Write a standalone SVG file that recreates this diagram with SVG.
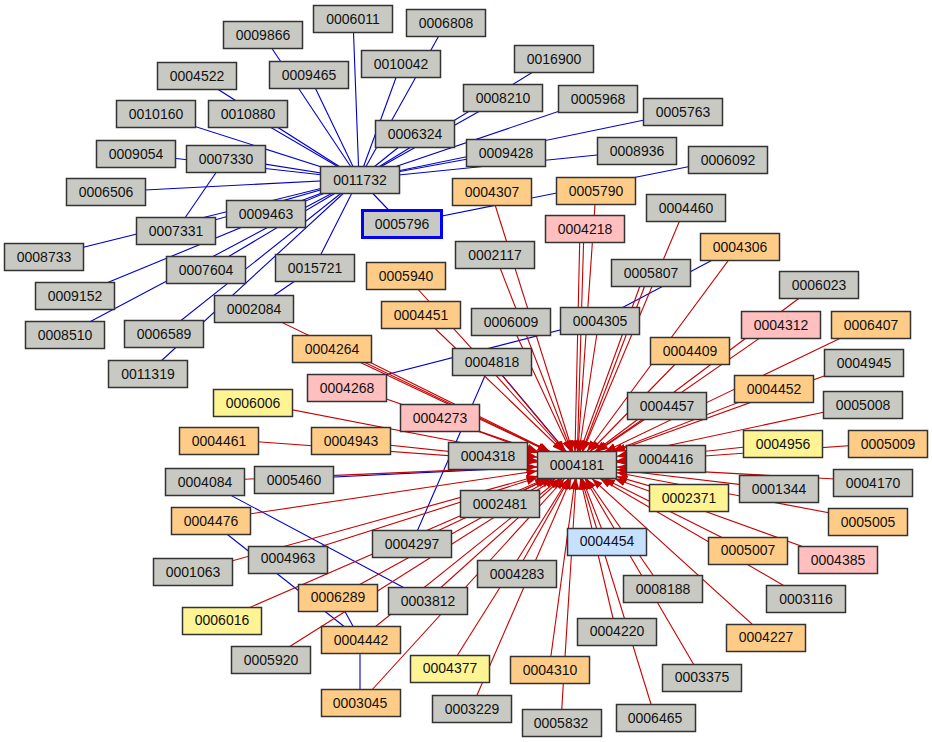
<svg xmlns="http://www.w3.org/2000/svg" width="932" height="742" viewBox="0 0 932 742">
<style>
rect{fill:#c8c9c3;stroke:#333;stroke-width:1.5}
.o{fill:#ffcc88}.p{fill:#ffbfbf}.y{fill:#fff494}.b{fill:#c6e0ff}
.sel{stroke:#0000ff;stroke-width:3}
text{font-family:"Liberation Sans",Arial,sans-serif;font-size:14px;text-anchor:middle;fill:#111}
.r line{stroke:#c80000;stroke-width:1.1;marker-end:url(#ah)}
.u line{stroke:#0000cc;stroke-width:1.1}
</style>
<defs><marker id="ah" markerUnits="userSpaceOnUse" markerWidth="12" markerHeight="8" refX="11" refY="4" orient="auto"><path d="M0,0 L11,4 L0,8 z" fill="#c80000"/></marker></defs>
<rect x="0" y="0" width="932" height="742" style="fill:#fff;stroke:none"/>
<g id="connectors">
<g class="u">
<line x1="359" y1="179" x2="353" y2="19"/><line x1="359" y1="179" x2="446" y2="23"/><line x1="359" y1="179" x2="263" y2="35"/><line x1="359" y1="179" x2="401" y2="64"/><line x1="359" y1="179" x2="554" y2="59"/><line x1="359" y1="179" x2="197" y2="76"/><line x1="359" y1="179" x2="309" y2="75"/><line x1="359" y1="179" x2="503" y2="98"/><line x1="359" y1="179" x2="598" y2="98"/><line x1="359" y1="179" x2="683" y2="112"/><line x1="359" y1="179" x2="156" y2="114"/><line x1="359" y1="179" x2="248" y2="114"/><line x1="359" y1="179" x2="415" y2="134"/><line x1="359" y1="179" x2="136" y2="154"/><line x1="359" y1="179" x2="226" y2="158"/><line x1="359" y1="179" x2="506" y2="152"/><line x1="359" y1="179" x2="637" y2="151"/><line x1="359" y1="179" x2="106" y2="192"/><line x1="359" y1="179" x2="266" y2="214"/><line x1="359" y1="179" x2="402" y2="224"/><line x1="359" y1="179" x2="176" y2="231"/><line x1="359" y1="179" x2="44" y2="257"/><line x1="359" y1="179" x2="206" y2="270"/><line x1="359" y1="179" x2="314" y2="268"/><line x1="359" y1="179" x2="75" y2="296"/><line x1="359" y1="179" x2="65" y2="335"/><line x1="359" y1="179" x2="164" y2="334"/><line x1="359" y1="179" x2="147" y2="374"/>
<line x1="226" y1="158" x2="176" y2="231"/><line x1="254" y1="309" x2="314" y2="268"/>
<line x1="402" y1="224" x2="727" y2="159"/><line x1="599" y1="320" x2="739" y2="246"/><line x1="599" y1="320" x2="346" y2="385"/>
<line x1="491" y1="362" x2="412" y2="543"/><line x1="491" y1="362" x2="566" y2="451"/><line x1="293" y1="479" x2="537" y2="467"/>
<line x1="204" y1="481" x2="427" y2="600"/><line x1="209" y1="520" x2="360" y2="639"/><line x1="337" y1="597" x2="360" y2="639"/><line x1="360" y1="639" x2="360" y2="703"/>
</g>
<g class="r">
<line x1="491" y1="192" x2="572.7" y2="451.5"/><line x1="596" y1="190" x2="577.9" y2="451.5"/><line x1="584" y1="228" x2="577.4" y2="451.5"/><line x1="580" y1="228" x2="575" y2="451.5"/><line x1="685" y1="208" x2="582.7" y2="451.5"/><line x1="495" y1="255" x2="571.7" y2="451.5"/><line x1="739" y1="246" x2="587" y2="451.5"/><line x1="406" y1="276" x2="564.8" y2="451.5"/><line x1="650" y1="272" x2="582.1" y2="451.5"/><line x1="645" y1="272" x2="580" y2="451.5"/><line x1="818" y1="284" x2="595" y2="451.5"/><line x1="254" y1="309" x2="549" y2="451.5"/><line x1="421" y1="315" x2="563" y2="451.5"/><line x1="510" y1="321" x2="570.7" y2="451.5"/><line x1="599" y1="320" x2="579" y2="451.5"/><line x1="780" y1="324" x2="596.4" y2="451.5"/><line x1="870" y1="324" x2="605" y2="451.5"/><line x1="332" y1="349" x2="548.5" y2="451.5"/><line x1="335" y1="345" x2="550" y2="451.5"/><line x1="491" y1="362" x2="565.7" y2="451.5"/><line x1="689" y1="350" x2="590" y2="451.5"/><line x1="863" y1="362" x2="614.5" y2="451.5"/><line x1="346" y1="385" x2="538" y2="451.5"/><line x1="773" y1="389" x2="611.8" y2="451.5"/><line x1="439" y1="417" x2="538" y2="453"/><line x1="666" y1="405" x2="597" y2="451.5"/><line x1="862" y1="404" x2="616.5" y2="456.5"/><line x1="219" y1="439" x2="537.5" y2="462.1"/><line x1="350" y1="441" x2="537.5" y2="460.8"/><line x1="252" y1="402" x2="537.5" y2="457.3"/><line x1="782" y1="443" x2="616.5" y2="460.8"/><line x1="887" y1="443" x2="616.5" y2="462.2"/><line x1="487" y1="455" x2="537.5" y2="460.6"/><line x1="666" y1="458" x2="616.5" y2="461.9"/><line x1="204" y1="481" x2="537.5" y2="466.7"/><line x1="872" y1="481" x2="616.5" y2="467.1"/><line x1="778" y1="489" x2="616.5" y2="469.7"/><line x1="688" y1="497" x2="616.5" y2="476.4"/><line x1="499" y1="502" x2="548.5" y2="478.5"/><line x1="867" y1="520" x2="616.5" y2="472.5"/><line x1="209" y1="520" x2="537.5" y2="470.9"/><line x1="606" y1="540" x2="582.2" y2="478.5"/><line x1="747" y1="550" x2="604" y2="478.5"/><line x1="837" y1="559" x2="614.3" y2="478.5"/><line x1="412" y1="543" x2="548.4" y2="478.5"/><line x1="288" y1="557" x2="537.5" y2="477.6"/><line x1="192" y1="572" x2="537.5" y2="476"/><line x1="516" y1="573" x2="569.4" y2="478.5"/><line x1="662" y1="588" x2="586.3" y2="478.5"/><line x1="701" y1="677" x2="584.9" y2="478.5"/><line x1="337" y1="597" x2="552.5" y2="478.5"/><line x1="427" y1="600" x2="562" y2="478.5"/><line x1="221" y1="620" x2="546" y2="478.5"/><line x1="616" y1="631" x2="580.2" y2="478.5"/><line x1="765" y1="636" x2="591.8" y2="478.5"/><line x1="270" y1="659" x2="555.6" y2="478.5"/><line x1="450" y1="667" x2="568.5" y2="478.5"/><line x1="549" y1="670" x2="575.2" y2="478.5"/><line x1="471" y1="709" x2="571.1" y2="478.5"/><line x1="561" y1="721" x2="576.2" y2="478.5"/><line x1="655" y1="717" x2="581.2" y2="478.5"/><line x1="805" y1="598" x2="600" y2="478.5"/><line x1="360" y1="703" x2="564.7" y2="478.5"/><line x1="360" y1="639" x2="560" y2="478.5"/>
</g>
</g>
<g id="n0006011"><rect x="313.5" y="5.5" width="79" height="27"/><text x="353" y="24">0006011</text></g>
<g id="n0006808"><rect x="406.5" y="9.5" width="79" height="27"/><text x="446" y="28">0006808</text></g>
<g id="n0009866"><rect x="223.5" y="21.5" width="79" height="27"/><text x="263" y="40">0009866</text></g>
<g id="n0010042"><rect x="361.5" y="50.5" width="79" height="27"/><text x="401" y="69">0010042</text></g>
<g id="n0016900"><rect x="514.5" y="45.5" width="79" height="27"/><text x="554" y="64">0016900</text></g>
<g id="n0004522"><rect x="157.5" y="62.5" width="79" height="27"/><text x="197" y="81">0004522</text></g>
<g id="n0009465"><rect x="269.5" y="61.5" width="79" height="27"/><text x="309" y="80">0009465</text></g>
<g id="n0008210"><rect x="463.5" y="84.5" width="79" height="27"/><text x="503" y="103">0008210</text></g>
<g id="n0005968"><rect x="558.5" y="85.5" width="79" height="27"/><text x="598" y="104">0005968</text></g>
<g id="n0005763"><rect x="643.5" y="98.5" width="79" height="27"/><text x="683" y="117">0005763</text></g>
<g id="n0010160"><rect x="116.5" y="100.5" width="79" height="27"/><text x="156" y="119">0010160</text></g>
<g id="n0010880"><rect x="208.5" y="100.5" width="79" height="27"/><text x="248" y="119">0010880</text></g>
<g id="n0006324"><rect x="375.5" y="120.5" width="79" height="27"/><text x="415" y="139">0006324</text></g>
<g id="n0009054"><rect x="96.5" y="140.5" width="79" height="27"/><text x="136" y="159">0009054</text></g>
<g id="n0007330"><rect x="186.5" y="145.5" width="79" height="27"/><text x="226" y="164">0007330</text></g>
<g id="n0009428"><rect x="466.5" y="139.5" width="79" height="27"/><text x="506" y="158">0009428</text></g>
<g id="n0008936"><rect x="597.5" y="137.5" width="79" height="27"/><text x="637" y="156">0008936</text></g>
<g id="n0006092"><rect x="688.5" y="146.5" width="79" height="27"/><text x="728" y="165">0006092</text></g>
<g id="n0006506"><rect x="66.5" y="178.5" width="79" height="27"/><text x="106" y="197">0006506</text></g>
<g id="n0011732"><rect x="320.5" y="166.5" width="79" height="27"/><text x="360" y="185">0011732</text></g>
<g id="n0004307"><rect x="452.5" y="178.5" width="79" height="27" class="o"/><text x="492" y="197">0004307</text></g>
<g id="n0005790"><rect x="556.5" y="177.5" width="79" height="27" class="o"/><text x="596" y="196">0005790</text></g>
<g id="n0009463"><rect x="226.5" y="200.5" width="79" height="27"/><text x="266" y="219">0009463</text></g>
<g id="n0005796"><rect x="362.5" y="210.5" width="79" height="27" class="sel"/><text x="402" y="229">0005796</text></g>
<g id="n0004218"><rect x="545.5" y="215.5" width="79" height="27" class="p"/><text x="585" y="234">0004218</text></g>
<g id="n0004460"><rect x="646.5" y="194.5" width="79" height="27"/><text x="686" y="213">0004460</text></g>
<g id="n0007331"><rect x="136.5" y="217.5" width="79" height="27"/><text x="176" y="236">0007331</text></g>
<g id="n0008733"><rect x="4.5" y="243.5" width="79" height="27"/><text x="44" y="262">0008733</text></g>
<g id="n0002117"><rect x="455.5" y="241.5" width="79" height="27"/><text x="495" y="260">0002117</text></g>
<g id="n0004306"><rect x="700.5" y="233.5" width="79" height="27" class="o"/><text x="740" y="252">0004306</text></g>
<g id="n0007604"><rect x="166.5" y="256.5" width="79" height="27"/><text x="206" y="275">0007604</text></g>
<g id="n0015721"><rect x="275.5" y="254.5" width="79" height="27"/><text x="315" y="273">0015721</text></g>
<g id="n0005940"><rect x="366.5" y="262.5" width="79" height="27" class="o"/><text x="406" y="281">0005940</text></g>
<g id="n0005807"><rect x="611.5" y="259.5" width="79" height="27"/><text x="651" y="278">0005807</text></g>
<g id="n0006023"><rect x="779.5" y="271.5" width="79" height="27"/><text x="819" y="290">0006023</text></g>
<g id="n0009152"><rect x="35.5" y="282.5" width="79" height="27"/><text x="75" y="301">0009152</text></g>
<g id="n0002084"><rect x="214.5" y="295.5" width="79" height="27"/><text x="254" y="314">0002084</text></g>
<g id="n0004451"><rect x="381.5" y="301.5" width="79" height="27" class="o"/><text x="421" y="320">0004451</text></g>
<g id="n0006009"><rect x="471.5" y="308.5" width="79" height="27"/><text x="511" y="327">0006009</text></g>
<g id="n0004305"><rect x="560.5" y="307.5" width="79" height="27"/><text x="600" y="326">0004305</text></g>
<g id="n0004312"><rect x="741.5" y="311.5" width="79" height="27" class="p"/><text x="781" y="330">0004312</text></g>
<g id="n0006407"><rect x="831.5" y="311.5" width="79" height="27" class="o"/><text x="871" y="330">0006407</text></g>
<g id="n0008510"><rect x="25.5" y="321.5" width="79" height="27"/><text x="65" y="340">0008510</text></g>
<g id="n0006589"><rect x="124.5" y="320.5" width="79" height="27"/><text x="164" y="339">0006589</text></g>
<g id="n0004264"><rect x="292.5" y="335.5" width="79" height="27" class="o"/><text x="332" y="354">0004264</text></g>
<g id="n0004818"><rect x="452.5" y="348.5" width="79" height="27"/><text x="492" y="367">0004818</text></g>
<g id="n0004409"><rect x="650.5" y="337.5" width="79" height="27" class="o"/><text x="690" y="356">0004409</text></g>
<g id="n0004945"><rect x="824.5" y="349.5" width="79" height="27"/><text x="864" y="368">0004945</text></g>
<g id="n0011319"><rect x="108.5" y="360.5" width="79" height="27"/><text x="148" y="379">0011319</text></g>
<g id="n0004268"><rect x="307.5" y="374.5" width="79" height="27" class="p"/><text x="347" y="393">0004268</text></g>
<g id="n0004452"><rect x="734.5" y="375.5" width="79" height="27" class="o"/><text x="774" y="394">0004452</text></g>
<g id="n0006006"><rect x="213.5" y="389.5" width="79" height="27" class="y"/><text x="253" y="408">0006006</text></g>
<g id="n0004273"><rect x="400.5" y="404.5" width="79" height="27" class="p"/><text x="440" y="423">0004273</text></g>
<g id="n0004457"><rect x="627.5" y="392.5" width="79" height="27"/><text x="667" y="411">0004457</text></g>
<g id="n0005008"><rect x="823.5" y="391.5" width="79" height="27"/><text x="863" y="410">0005008</text></g>
<g id="n0004461"><rect x="179.5" y="427.5" width="79" height="27" class="o"/><text x="219" y="446">0004461</text></g>
<g id="n0004943"><rect x="311.5" y="427.5" width="79" height="27" class="o"/><text x="351" y="446">0004943</text></g>
<g id="n0004956"><rect x="743.5" y="430.5" width="79" height="27" class="y"/><text x="783" y="449">0004956</text></g>
<g id="n0005009"><rect x="848.5" y="430.5" width="79" height="27" class="o"/><text x="888" y="449">0005009</text></g>
<g id="n0004318"><rect x="448.5" y="442.5" width="79" height="27"/><text x="488" y="461">0004318</text></g>
<g id="n0004416"><rect x="626.5" y="445.5" width="79" height="27"/><text x="666" y="464">0004416</text></g>
<g id="n0004181"><rect x="537.5" y="451.5" width="79" height="27"/><text x="577" y="470">0004181</text></g>
<g id="n0004084"><rect x="165.5" y="468.5" width="79" height="27"/><text x="205" y="487">0004084</text></g>
<g id="n0005460"><rect x="254.5" y="466.5" width="79" height="27"/><text x="294" y="485">0005460</text></g>
<g id="n0001344"><rect x="739.5" y="475.5" width="79" height="27"/><text x="779" y="494">0001344</text></g>
<g id="n0004170"><rect x="833.5" y="469.5" width="79" height="27"/><text x="873" y="488">0004170</text></g>
<g id="n0002371"><rect x="649.5" y="484.5" width="79" height="27" class="y"/><text x="689" y="503">0002371</text></g>
<g id="n0002481"><rect x="460.5" y="490.5" width="79" height="27"/><text x="500" y="509">0002481</text></g>
<g id="n0005005"><rect x="828.5" y="508.5" width="79" height="27" class="o"/><text x="868" y="527">0005005</text></g>
<g id="n0004476"><rect x="171.5" y="507.5" width="79" height="27" class="o"/><text x="211" y="526">0004476</text></g>
<g id="n0004454"><rect x="567.5" y="528.5" width="79" height="27" class="b"/><text x="607" y="546">0004454</text></g>
<g id="n0005007"><rect x="708.5" y="537.5" width="79" height="27" class="o"/><text x="748" y="555">0005007</text></g>
<g id="n0004385"><rect x="798.5" y="546.5" width="79" height="27" class="p"/><text x="838" y="565">0004385</text></g>
<g id="n0004297"><rect x="372.5" y="530.5" width="79" height="27"/><text x="412" y="549">0004297</text></g>
<g id="n0004963"><rect x="248.5" y="546.5" width="79" height="27"/><text x="288" y="563">0004963</text></g>
<g id="n0001063"><rect x="153.5" y="558.5" width="79" height="27"/><text x="193" y="577">0001063</text></g>
<g id="n0004283"><rect x="477.5" y="560.5" width="79" height="27"/><text x="517" y="579">0004283</text></g>
<g id="n0008188"><rect x="623.5" y="575.5" width="79" height="27"/><text x="663" y="594">0008188</text></g>
<g id="n0003116"><rect x="766.5" y="585.5" width="79" height="27"/><text x="806" y="604">0003116</text></g>
<g id="n0006289"><rect x="298.5" y="584.5" width="79" height="27" class="o"/><text x="338" y="602">0006289</text></g>
<g id="n0003812"><rect x="388.5" y="587.5" width="79" height="27"/><text x="428" y="606">0003812</text></g>
<g id="n0006016"><rect x="182.5" y="607.5" width="79" height="27" class="y"/><text x="222" y="625">0006016</text></g>
<g id="n0004220"><rect x="577.5" y="618.5" width="79" height="27"/><text x="617" y="636">0004220</text></g>
<g id="n0004227"><rect x="726.5" y="624.5" width="79" height="27" class="o"/><text x="766" y="642">0004227</text></g>
<g id="n0004442"><rect x="321.5" y="626.5" width="79" height="27" class="o"/><text x="361" y="645">0004442</text></g>
<g id="n0005920"><rect x="231.5" y="646.5" width="79" height="27"/><text x="271" y="665">0005920</text></g>
<g id="n0004377"><rect x="410.5" y="655.5" width="79" height="27" class="y"/><text x="450" y="673">0004377</text></g>
<g id="n0004310"><rect x="510.5" y="656.5" width="79" height="27" class="o"/><text x="550" y="675">0004310</text></g>
<g id="n0003375"><rect x="662.5" y="664.5" width="79" height="27"/><text x="702" y="682">0003375</text></g>
<g id="n0003045"><rect x="321.5" y="689.5" width="79" height="27" class="o"/><text x="360" y="708">0003045</text></g>
<g id="n0003229"><rect x="432.5" y="695.5" width="79" height="27"/><text x="472" y="714">0003229</text></g>
<g id="n0005832"><rect x="522.5" y="709.5" width="79" height="27"/><text x="561" y="728">0005832</text></g>
<g id="n0006465"><rect x="616.5" y="704.5" width="79" height="27"/><text x="655" y="723">0006465</text></g>
</svg>
